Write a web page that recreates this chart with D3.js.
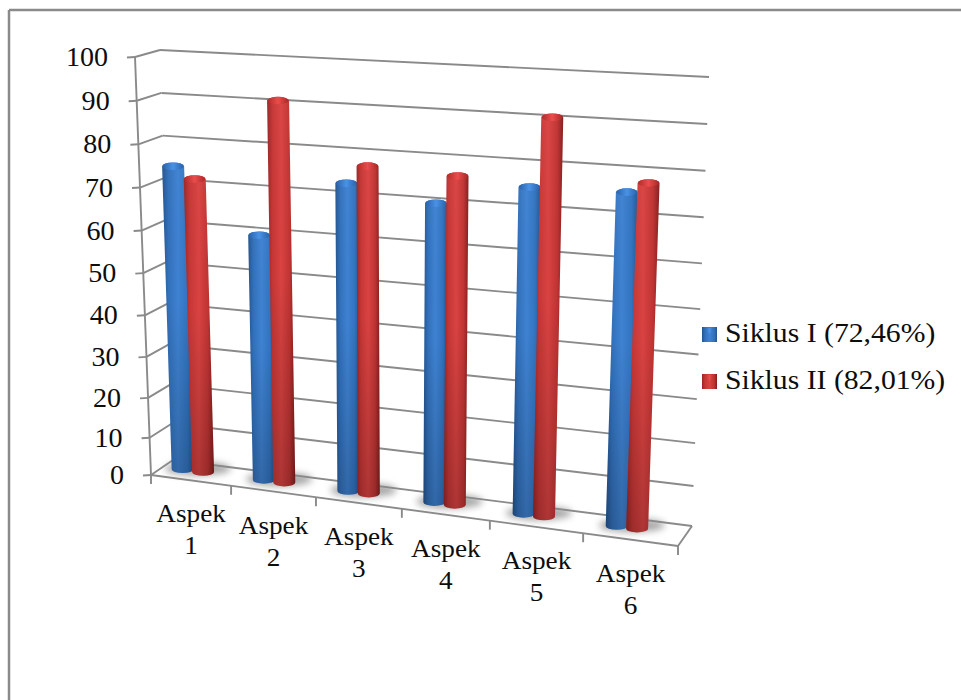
<!DOCTYPE html>
<html>
<head>
<meta charset="utf-8">
<script src="https://cdn.jsdelivr.net/npm/d3@7"></script>
<style>
  html, body { margin: 0; padding: 0; background: #fff; }
  svg { display: block; }
  text { font-family: "Liberation Serif", serif; fill: #0d0d0d; }
</style>
</head>
<body>
<svg id="chart" width="961" height="700"></svg>
<script>
// Chart data
const categories = ["Aspek 1", "Aspek 2", "Aspek 3", "Aspek 4", "Aspek 5", "Aspek 6"];
const seriesNames = ["Siklus I (72,46%)", "Siklus II (82,01%)"];
const siklusI = [74.1, 59.6, 73.1, 70.1, 75.2, 75.6];
const siklusII = [71.5, 90.8, 77.3, 76.5, 90.7, 77.9];
const valueTicks = [0, 10, 20, 30, 40, 50, 60, 70, 80, 90, 100];

// Corners of the 3D plot box
const box = {
  floor: { fl: [151, 475], fr: [678, 546], br: [692, 526], bl: [173, 460] },
  ceil:  { fl: [135, 57],  fr: [697, 88],  br: [709, 77],  bl: [160, 50] }
};
const barDepth = 0.55, barHalfSpan = 0.0195, barCentre = 0.375;

const svg = d3.select("#chart");
const defs = svg.append("defs");

// Gentle vertical compression toward the floor, from the perspective view
const valueT = d3.scalePow().exponent(1.05).domain([0, 100]).range([0, 1]);
// Category slots widen to the right along the front edge
const categoryU = d3.scaleLinear()
  .domain(d3.range(0, 7))
  .range([0, 0.152, 0.313, 0.476, 0.643, 0.82, 1]);

const mix = (a, b, t) => [a[0] + (b[0] - a[0]) * t, a[1] + (b[1] - a[1]) * t];
const onPlane = (p, u, d) => mix(mix(p.fl, p.fr, u), mix(p.bl, p.br, u), d);
const project = (u, d, v) => mix(onPlane(box.floor, u, d), onPlane(box.ceil, u, d), valueT(v));

const lineColor = "#8a8a8a";
const grid = svg.append("g").attr("fill", "none").attr("stroke", lineColor).attr("stroke-width", 1.9);
const seg = (g, a, b) => g.append("line")
  .attr("x1", a[0]).attr("y1", a[1]).attr("x2", b[0]).attr("y2", b[1]);

// Outer frame
const frame = svg.append("g").attr("fill", "none").attr("stroke", "#8a8a8a").attr("stroke-width", 2.5);
seg(frame, [9, 10], [961, 10]);
seg(frame, [9, 10], [9, 700]);

// Walls, floor edge, value axis and tick marks
valueTicks.forEach(v => {
  const front = project(0, 0, v), backL = project(0, 1, v), backR = project(1, 1, v);
  seg(grid, front, backL);
  seg(grid, backL, backR);
  seg(grid, [front[0] - 8, front[1] + 0.5], front);
});
seg(grid, project(0, 0, 0), project(0, 0, 100));
seg(grid, project(0, 0, 0), project(1, 0, 0));
seg(grid, project(1, 0, 0), project(1, 1, 0));
d3.range(0, 7).forEach(i => {
  const p = project(categoryU(i), 0, 0);
  seg(grid, p, [p[0], p[1] + 9]);
});

// Horizontally widened serif labels
const label = (x, y, str, size, anchor, stretch) => svg.append("text")
  .attr("transform", `translate(${x},${y}) scale(${stretch},1)`)
  .attr("font-size", size)
  .attr("text-anchor", anchor)
  .text(str);

valueTicks.forEach(v => {
  const p = project(0, 0, v);
  label(p[0] - 27, p[1] + 9, String(v), 27, "end", 1.04);
});

// Category labels on two lines, following the slant of the front edge
categories.forEach((c, i) => {
  const p = project(categoryU(i + 0.5), 0, 0);
  const [word, num] = c.split(" ");
  label(p[0], p[1] + 42, word, 25, "middle", 1.09);
  label(p[0], p[1] + 74, num, 25, "middle", 1.09);
});

// Shading for the cylinders
function hGradient(id, stops) {
  const g = defs.append("linearGradient").attr("id", id)
    .attr("x1", 0).attr("x2", 1).attr("y1", 0).attr("y2", 0);
  stops.forEach(([o, c]) => g.append("stop").attr("offset", o).attr("stop-color", c));
}
hGradient("bodyBlue", [[0, "#24548f"], [0.2, "#3270ba"], [0.5, "#3f82d2"], [0.8, "#3274c0"], [1, "#245690"]]);
hGradient("bodyRed",  [[0, "#9a2626"], [0.2, "#c63736"], [0.5, "#d94342"], [0.8, "#bf3433"], [1, "#841e1e"]]);
hGradient("capBlue",  [[0, "#2a62aa"], [0.5, "#4a92e6"], [1, "#2a62aa"]]);
hGradient("capRed",   [[0, "#b02c2c"], [0.5, "#ea4d4b"], [1, "#a82828"]]);

const fade = defs.append("linearGradient").attr("id", "fade")
  .attr("x1", 0).attr("x2", 0).attr("y1", 0).attr("y2", 1);
fade.append("stop").attr("offset", 0).attr("stop-color", "#fff").attr("stop-opacity", 0.02);
fade.append("stop").attr("offset", 0.45).attr("stop-color", "#000").attr("stop-opacity", 0.0);
fade.append("stop").attr("offset", 1).attr("stop-color", "#000").attr("stop-opacity", 0.2);

defs.append("filter").attr("id", "soft").attr("x", "-40%").attr("y", "-100%")
  .attr("width", "180%").attr("height", "300%")
  .append("feGaussianBlur").attr("stdDeviation", 3.5);

// Floor shadows under each pair of cylinders
const shadows = svg.append("g");
categories.forEach((c, i) => {
  const u = categoryU(i + barCentre);
  const p = project(u, barDepth, 0);
  shadows.append("ellipse")
    .attr("cx", p[0] + 5).attr("cy", p[1] - 2)
    .attr("rx", 33).attr("ry", 7)
    .attr("fill", "#8a8a8a").attr("opacity", 0.75)
    .attr("filter", "url(#soft)");
});

// Cylinders
const series = [
  { values: siklusI,  side: -1, body: "url(#bodyBlue)", cap: "url(#capBlue)" },
  { values: siklusII, side:  1, body: "url(#bodyRed)",  cap: "url(#capRed)" }
];
const bars = svg.append("g");
categories.forEach((c, i) => {
  series.forEach(s => {
    const u = categoryU(i + barCentre) + s.side * barHalfSpan;
    const base = project(u, barDepth, 0);
    const top = project(u, barDepth, s.values[i]);
    const rx = (project(u + barHalfSpan, barDepth, 0)[0] - project(u - barHalfSpan, barDepth, 0)[0]) / 2 + 0.8;
    const ry = 3.8;
    const d = `M${top[0] - rx},${top[1]} L${base[0] - rx},${base[1]} ` +
      `A${rx},${ry} 0 0 0 ${base[0] + rx},${base[1]} L${top[0] + rx},${top[1]} ` +
      `A${rx},${ry} 0 0 0 ${top[0] - rx},${top[1]} Z`;
    bars.append("path").attr("d", d).attr("fill", s.body);
    bars.append("path").attr("d", d).attr("fill", "url(#fade)");
    bars.append("ellipse")
      .attr("cx", top[0]).attr("cy", top[1])
      .attr("rx", rx - 0.5).attr("ry", ry)
      .attr("fill", s.cap);
  });
});

// Legend
const legendRows = [{ y: 342, body: "bodyBlue", cap: "capBlue" }, { y: 389, body: "bodyRed", cap: "capRed" }];
seriesNames.forEach((name, i) => {
  const row = legendRows[i];
  svg.append("rect").attr("x", 702).attr("y", row.y - 15).attr("width", 15).attr("height", 15)
    .attr("fill", `url(#${row.body})`);
  svg.append("path")
    .attr("d", `M704,${row.y - 14} L715,${row.y - 14} L709.5,${row.y - 8} Z`)
    .attr("fill", `url(#${row.cap})`);
  label(725, row.y, name, 27, "start", 1.1);
});
</script>
</body>
</html>
